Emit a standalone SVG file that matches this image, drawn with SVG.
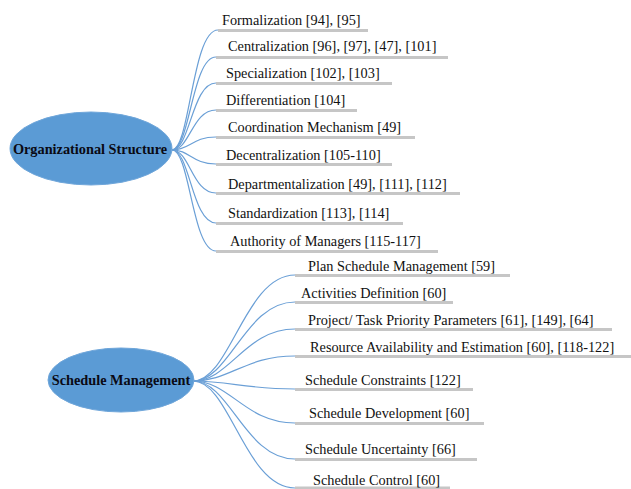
<svg xmlns="http://www.w3.org/2000/svg" width="631" height="489" viewBox="0 0 631 489">
<style>
.ell{fill:#5b9bd5;stroke:#6fa6da;stroke-width:1}
.root{font-family:"Liberation Serif","Times New Roman",serif;font-weight:bold;font-size:14.3px;fill:#0a0a14;text-anchor:middle}
.lbl{font-family:"Liberation Serif","Times New Roman",serif;font-size:14.3px;fill:#111}
.ul{stroke:#c6c6c6;stroke-width:3;fill:none}
.con path{fill:none;stroke:#6a9fd6;stroke-width:1.2}
</style>
<rect width="631" height="489" fill="#fff"/>
<g id="connectors" class="con">
<path d="M172 150 C190 150 192 30 218 30"/>
<path d="M172 150 C190 150 192 57 216 57"/>
<path d="M172 150 C190 150 192 83 216 83"/>
<path d="M172 150 C190 150 192 110 216 110"/>
<path d="M172 150 C190 150 192 137 216 137"/>
<path d="M172 150 C190 150 192 164 216 164"/>
<path d="M172 150 C190 150 192 193 216 193"/>
<path d="M172 150 C190 150 192 223 216 223"/>
<path d="M172 150 C190 150 192 251 216 251"/>
<path d="M193 381 C230 381 245 275 295 275"/>
<path d="M193 381 C230 381 245 302 295 302"/>
<path d="M193 381 C230 381 245 329 295 329"/>
<path d="M193 381 C230 381 245 356 295 356"/>
<path d="M193 381 C230 381 245 389 295 389"/>
<path d="M193 381 C230 381 245 423 295 423"/>
<path d="M193 381 C230 381 245 459 295 459"/>
<path d="M193 381 C230 381 245 488 295 488"/>
</g>
<g id="org">
<ellipse class="ell" cx="91" cy="148.5" rx="81" ry="36.5"/>
<text class="root" x="90" y="154">Organizational Structure</text>
</g>
<g id="n-formalization"><line class="ul" x1="218" y1="30.5" x2="368" y2="30.5"/><text class="lbl" x="222" y="25">Formalization [94], [95]</text></g>
<g id="n-centralization"><line class="ul" x1="216" y1="57.5" x2="448" y2="57.5"/><text class="lbl" x="228" y="51">Centralization [96], [97], [47], [101]</text></g>
<g id="n-specialization"><line class="ul" x1="216" y1="83.5" x2="392" y2="83.5"/><text class="lbl" x="226" y="78">Specialization [102], [103]</text></g>
<g id="n-differentiation"><line class="ul" x1="216" y1="110.5" x2="357" y2="110.5"/><text class="lbl" x="226" y="105">Differentiation [104]</text></g>
<g id="n-coordination"><line class="ul" x1="216" y1="137.5" x2="415" y2="137.5"/><text class="lbl" x="228" y="132">Coordination Mechanism [49]</text></g>
<g id="n-decentralization"><line class="ul" x1="216" y1="164.5" x2="392" y2="164.5"/><text class="lbl" x="226" y="160">Decentralization [105-110]</text></g>
<g id="n-departmentalization"><line class="ul" x1="216" y1="193.5" x2="460" y2="193.5"/><text class="lbl" x="228" y="189">Departmentalization [49], [111], [112]</text></g>
<g id="n-standardization"><line class="ul" x1="216" y1="223.5" x2="403" y2="223.5"/><text class="lbl" x="228" y="218">Standardization [113], [114]</text></g>
<g id="n-authority"><line class="ul" x1="216" y1="251.5" x2="438" y2="251.5"/><text class="lbl" x="230" y="246">Authority of Managers [115-117]</text></g>
<g id="sched">
<ellipse class="ell" cx="121" cy="380" rx="73" ry="32"/>
<text class="root" x="121" y="385">Schedule Management</text>
</g>
<g id="n-plan"><line class="ul" x1="295" y1="275.5" x2="510" y2="275.5"/><text class="lbl" x="308" y="271">Plan Schedule Management [59]</text></g>
<g id="n-activities"><line class="ul" x1="295" y1="302.5" x2="453" y2="302.5"/><text class="lbl" x="301" y="298">Activities Definition [60]</text></g>
<g id="n-priority"><line class="ul" x1="295" y1="329.5" x2="612" y2="329.5"/><text class="lbl" x="308" y="325">Project/ Task Priority Parameters [61], [149], [64]</text></g>
<g id="n-resource"><line class="ul" x1="295" y1="356.5" x2="631" y2="356.5"/><text class="lbl" x="310" y="352">Resource Availability and Estimation [60], [118-122]</text></g>
<g id="n-constraints"><line class="ul" x1="295" y1="389.5" x2="473" y2="389.5"/><text class="lbl" x="305" y="385">Schedule Constraints [122]</text></g>
<g id="n-development"><line class="ul" x1="295" y1="423.5" x2="484" y2="423.5"/><text class="lbl" x="309" y="418">Schedule Development [60]</text></g>
<g id="n-uncertainty"><line class="ul" x1="295" y1="459.5" x2="477" y2="459.5"/><text class="lbl" x="305" y="454">Schedule Uncertainty [66]</text></g>
<g id="n-control"><line class="ul" x1="295" y1="488" x2="450" y2="488"/><text class="lbl" x="313" y="485">Schedule Control [60]</text></g>
</svg>
